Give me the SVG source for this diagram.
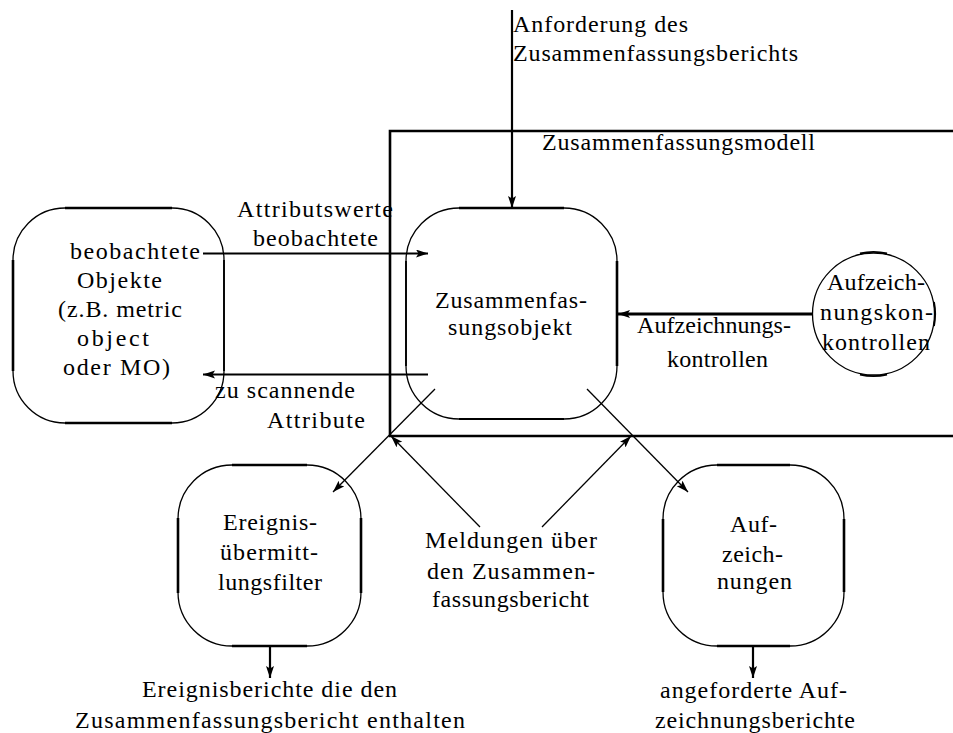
<svg xmlns="http://www.w3.org/2000/svg" width="953" height="733" viewBox="0 0 953 733">
  <style>
    .outline { fill: none; stroke: #000; stroke-width: 1.3; }
    .edge { stroke: #000; stroke-width: 2.6; fill: none; }
    .edge-m { stroke: #000; stroke-width: 1.8; fill: none; }
    .frame { fill: none; stroke: #000; stroke-width: 2.6; }
    .link { stroke: #000; fill: none; }
    .w1 { stroke-width: 1.3; }
    .w2 { stroke-width: 2.2; }
    .w3 { stroke-width: 3.2; }
  </style>
  <defs>
    <marker id="head" markerUnits="userSpaceOnUse" markerWidth="14" markerHeight="10" refX="12" refY="4" orient="auto">
      <path d="M0,0 L12,4 L0,8 L2.5,4 Z" fill="#000"/>
    </marker>
  </defs>

  <rect width="953" height="733" fill="#fff"/>

  <!-- model frame, open to the right -->
  <g id="model">
    <path class="frame" d="M953,131 H390 V436 H953"/>
  </g>

  <!-- observed objects -->
  <g id="observed">
    <rect class="outline" x="13" y="208" width="211" height="215" rx="52" ry="52"/>
    <line class="edge" x1="65" y1="208" x2="172" y2="208"/>
    <line class="edge" x1="65" y1="423" x2="172" y2="423"/>
    <line class="edge" x1="13" y1="260" x2="13" y2="371"/>
    <line class="edge-m" x1="224" y1="260" x2="224" y2="371"/>
  </g>

  <!-- summarization object -->
  <g id="summary">
    <rect class="outline" x="406" y="208" width="211" height="211" rx="53" ry="53"/>
    <line class="edge" x1="459" y1="208" x2="564" y2="208"/>
    <line class="edge-m" x1="459" y1="419" x2="564" y2="419"/>
    <line class="edge-m" x1="406" y1="261" x2="406" y2="366"/>
    <line class="edge" x1="617" y1="261" x2="617" y2="366"/>
  </g>

  <!-- recording controls -->
  <g id="controls">
    <circle class="outline" cx="873.5" cy="314" r="61"/>
    <path class="edge-m" d="M860,253.5 A61,61 0 0 1 887,253.5"/>
    <path class="edge-m" d="M860,374.5 A61,61 0 0 0 887,374.5"/>
    <path class="edge-m" d="M934,302 A61,61 0 0 1 934,326"/>
  </g>

  <!-- event forwarding filter -->
  <g id="filter">
    <rect class="outline" x="178" y="465" width="183" height="181" rx="54" ry="54"/>
    <line class="edge" x1="232" y1="465" x2="307" y2="465"/>
    <line class="edge" x1="232" y1="646" x2="307" y2="646"/>
    <line class="edge" x1="178" y1="518" x2="178" y2="593"/>
    <line class="edge" x1="361" y1="518" x2="361" y2="593"/>
  </g>

  <!-- records -->
  <g id="records">
    <rect class="outline" x="663" y="465" width="181" height="181" rx="54" ry="54"/>
    <line class="edge" x1="717" y1="465" x2="790" y2="465"/>
    <line class="edge" x1="717" y1="646" x2="790" y2="646"/>
    <line class="edge" x1="663" y1="519" x2="663" y2="592"/>
    <line class="edge" x1="844" y1="519" x2="844" y2="592"/>
  </g>

  <!-- connectors -->
  <g id="connectors">
    <line class="link w2" x1="512" y1="10" x2="512" y2="208" marker-end="url(#head)"/>
    <line class="link w2" x1="203" y1="253.5" x2="428" y2="253.5" marker-end="url(#head)"/>
    <line class="link w2" x1="428" y1="374.5" x2="203" y2="374.5" marker-end="url(#head)"/>
    <line class="link w3" x1="812" y1="314" x2="618" y2="314" marker-end="url(#head)"/>
    <line class="link w1" x1="435" y1="389" x2="333" y2="492" marker-end="url(#head)"/>
    <line class="link w1" x1="480" y1="527" x2="391" y2="436" marker-end="url(#head)"/>
    <line class="link w1" x1="542" y1="527" x2="631" y2="436" marker-end="url(#head)"/>
    <line class="link w1" x1="587" y1="389" x2="688" y2="492" marker-end="url(#head)"/>
    <line class="link w2" x1="270" y1="646" x2="270" y2="678" marker-end="url(#head)"/>
    <line class="link w2" x1="753" y1="646" x2="753" y2="678" marker-end="url(#head)"/>
  </g>

  <!-- all text, serif, widths fitted per line -->
  <g id="texts" font-family="Liberation Serif" font-size="24" fill="#000">
    <text x="542" y="150" textLength="273">Zusammenfassungsmodell</text>
    <text x="70" y="259" textLength="130">beobachtete</text>
    <text x="77" y="288" textLength="85">Objekte</text>
    <text x="58" y="317" textLength="124">(z.B. metric</text>
    <text x="77" y="346" textLength="72">object</text>
    <text x="63" y="375" textLength="107">oder MO)</text>
    <text x="435" y="308" textLength="152">Zusammenfas-</text>
    <text x="448" y="335" textLength="124">sungsobjekt</text>
    <text x="827" y="290" textLength="98">Aufzeich-</text>
    <text x="820" y="320" textLength="113">nungskon-</text>
    <text x="822" y="350" textLength="108">kontrollen</text>
    <text x="223" y="530" textLength="94">Ereignis-</text>
    <text x="220" y="560" textLength="98">übermitt-</text>
    <text x="218" y="590" textLength="104">lungsfilter</text>
    <text x="730" y="532" textLength="47">Auf-</text>
    <text x="722" y="562" textLength="61">zeich-</text>
    <text x="717" y="589" textLength="75">nungen</text>
    <text x="513" y="32" textLength="175">Anforderung des</text>
    <text x="513" y="61" textLength="285">Zusammenfassungsberichts</text>
    <text x="237" y="217" textLength="156">Attributswerte</text>
    <text x="253" y="246" textLength="125">beobachtete</text>
    <text x="215" y="398" textLength="140">zu scannende</text>
    <text x="267" y="428" textLength="98">Attribute</text>
    <text x="637" y="333" textLength="154">Aufzeichnungs-</text>
    <text x="667" y="367" textLength="101">kontrollen</text>
    <text x="425" y="548" textLength="172">Meldungen über</text>
    <text x="427" y="579" textLength="168">den Zusammen-</text>
    <text x="432" y="607" textLength="157">fassungsbericht</text>
    <text x="142" y="697" textLength="255">Ereignisberichte die den</text>
    <text x="75" y="728" textLength="390">Zusammenfassungsbericht enthalten</text>
    <text x="660" y="698" textLength="187">angeforderte Auf-</text>
    <text x="655" y="728" textLength="200">zeichnungsberichte</text>
  </g>
</svg>
